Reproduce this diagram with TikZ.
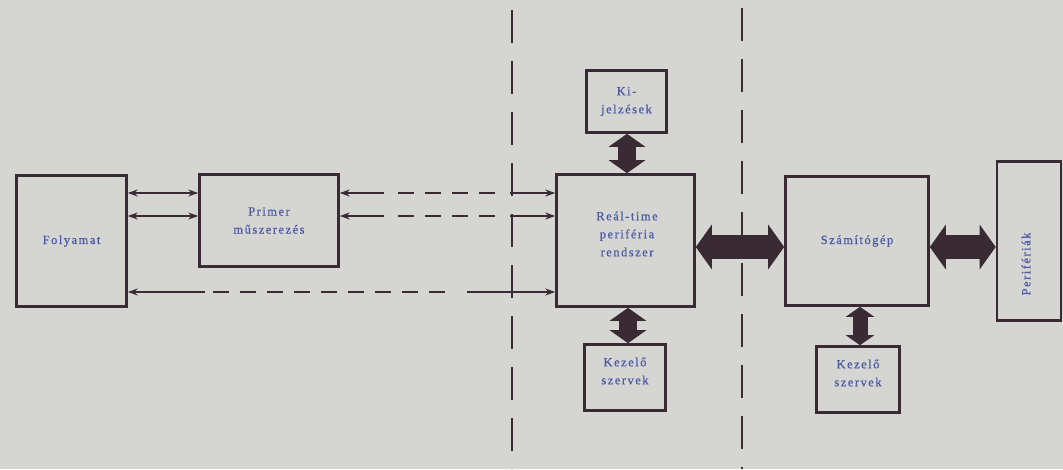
\documentclass[tikz,border=0pt]{standalone}
\usepackage{fontspec}
\setmainfont{Liberation Serif}[LetterSpace=12,FakeBold=0.6]
\usetikzlibrary{arrows.meta}
\definecolor{bg}{HTML}{D5D5D2}
\definecolor{ink}{HTML}{3A2A34}
\definecolor{txt}{HTML}{4C5AA6}
\tikzset{
  box/.style={draw=ink, line width=2.6pt, fill=bg, rectangle, inner sep=0pt,
    text=txt, align=center, font=\fontsize{12.5}{18}\selectfont},
  sig/.style={draw=ink, line width=1.4pt},
  sigboth/.style={sig, {Stealth[length=10pt,width=7pt]}-{Stealth[length=10pt,width=7pt]}},
  sigleft/.style={sig, {Stealth[length=10pt,width=7pt]}-},
  sigright/.style={sig, -{Stealth[length=10pt,width=7pt]}},
  sigdash/.style={sig, dash pattern=on 16pt off 11pt},
  sep/.style={draw=ink, line width=1.6pt, dash pattern=on 33pt off 18pt},
  fatv/.style={draw=ink, line width=18pt, {Triangle[length=13pt,width=36pt]}-{Triangle[length=13pt,width=36pt]}},
  fath/.style={draw=ink, line width=24pt, {Triangle[length=16pt,width=44pt]}-{Triangle[length=16pt,width=44pt]}},
  fats/.style={draw=ink, line width=15pt, {Triangle[length=10pt,width=28pt]}-{Triangle[length=10pt,width=28pt]}},
  lbl/.style={text=txt, align=center, font=\fontsize{12.5}{18}\selectfont},
}
\begin{document}
\begin{tikzpicture}[x=1pt,y=1pt]
\fill[bg] (0,0) rectangle (1063,-469);
\useasboundingbox (0,0) rectangle (1063,-469);
% separators
\coordinate (s1t) at (512,-10);
\coordinate (s1b) at (512,-469);
\coordinate (s2t) at (742,-8);
\coordinate (s2b) at (742,-469);
\draw[sep] (s1t) -- (s1b);
\draw[sep] (s2t) -- (s2b);
% boxes
\node[box, minimum width=110pt, minimum height=131pt] (fol) at (71.5,-241) {Folyamat};
\node[box, minimum width=139pt, minimum height=92pt] (pri) at (269,-220.5) {Primer\\műszerezés};
\node[box, minimum width=138pt, minimum height=132pt] (rt) at (625.5,-240.5) {};
\node[lbl] (rttxt) at (627,-234) {Reál-time\\periféria\\rendszer};
\node[box, minimum width=80pt, minimum height=62pt] (kij) at (626.5,-101.5) {Ki-\\jelzések};
\node[box, minimum width=81pt, minimum height=66pt] (kez1) at (625,-377.5) {};
\node[lbl] (kez1txt) at (625,-371) {Kezelő\\szervek};
\node[box, minimum width=143pt, minimum height=129pt] (szg) at (857,-241) {Számítógép};
\node[box, minimum width=64pt, minimum height=159pt] (per) at (1029,-241) {};
\node[lbl, rotate=90] (pertxt) at (1026,-264) {Perifériák};
\node[box, minimum width=83pt, minimum height=66pt] (kez2) at (858,-379.5) {};
\node[lbl] (kez2txt) at (858,-373) {Kezelő\\szervek};
% level coordinates
\coordinate (ya) at (0,-193);
\coordinate (yb) at (0,-216);
\coordinate (yc) at (0,-292);
% Folyamat - Primer
\draw[sigboth] (fol.east |- ya) -- (pri.west |- ya);
\draw[sigboth] (fol.east |- yb) -- (pri.west |- yb);
% Primer - RT (dashed middle)
\coordinate (a1) at (384,-193);
\coordinate (a2) at (510,-193);
\coordinate (b1) at (384,-216);
\coordinate (b2) at (510,-216);
\draw[sigleft] (pri.east |- ya) -- (a1);
\draw[sigdash] ([xshift=14pt]a1) -- ([xshift=-12pt]a2);
\draw[sigright] (a2) -- (rt.west |- ya);
\draw[sigleft] (pri.east |- yb) -- (b1);
\draw[sigdash] ([xshift=14pt]b1) -- ([xshift=-12pt]b2);
\draw[sigright] (b2) -- (rt.west |- yb);
% Folyamat - RT
\coordinate (c1) at (205,-292);
\coordinate (c2) at (467,-292);
\draw[sigleft] (fol.east |- yc) -- (c1);
\draw[sigdash] ([xshift=8pt]c1) -- ([xshift=-14pt]c2);
\draw[sigright] (c2) -- (rt.west |- yc);
% fat connectors
\coordinate (xk) at (627,0);
\coordinate (xk2) at (628,0);
\coordinate (yh) at (0,-247);
\coordinate (xs) at (860,0);
\draw[fatv] (kij.south -| xk) -- (rt.north -| xk);
\draw[fatv] (rt.south -| xk2) -- (kez1.north -| xk2);
\draw[fath] (rt.east |- yh) -- (szg.west |- yh);
\draw[fath] (szg.east |- yh) -- (per.west |- yh);
\draw[fats] (szg.south -| xs) -- (kez2.north -| xs);
\end{tikzpicture}
\end{document}
